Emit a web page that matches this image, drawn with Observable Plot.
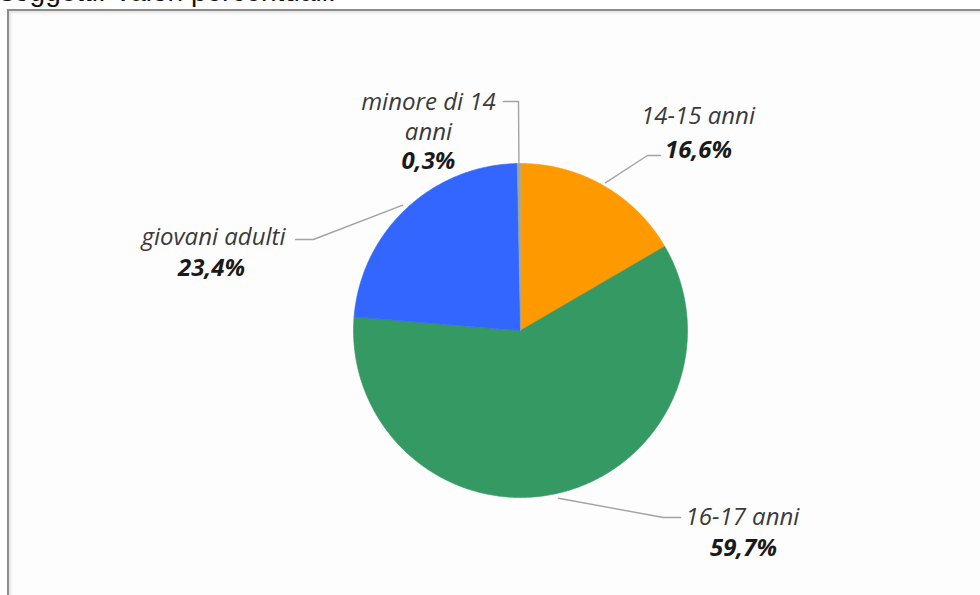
<!DOCTYPE html>
<html>
<head>
<meta charset="utf-8">
<script src="https://cdn.jsdelivr.net/npm/d3@7"></script>
<script src="https://cdn.jsdelivr.net/npm/@observablehq/plot@0.6"></script>
<style>
  html, body { margin: 0; padding: 0; background: #ffffff; overflow: hidden; }
  #wrap { position: relative; width: 980px; height: 595px; overflow: hidden; }
  #title { position: absolute; left: 0; top: -22px; font-family: "Liberation Sans", Arial, sans-serif;
           font-size: 28px; line-height: 28px; color: #111; white-space: nowrap; }
  #frame { position: absolute; left: 7px; top: 9px; width: 990px; height: 600px;
           border-top: 2px solid #8c8c8c; border-left: 2px solid #8c8c8c;
           box-shadow: inset 2px 2px 3px rgba(0,0,0,0.10); background: #fdfdfd; }
  #chart { position: absolute; left: 0; top: 0; }
</style>
</head>
<body>
<div id="wrap">
  <div id="title">soggetti. Valori percentuali.</div>
  <div id="frame"></div>
  <div id="chart"></div>
</div>
<script>
// ---- data ----
const categories = ["14-15 anni", "16-17 anni", "giovani adulti", "minore di 14 anni"];
const values = [16.6, 59.7, 23.4, 0.3];
const nameLabels = ["14-15 anni", "16-17 anni", "giovani adulti", "minore di 14\nanni"];
const valueLabels = ["16,6%", "59,7%", "23,4%", "0,3%"];

// ---- styles / layout (not data) ----
const sliceColors = ["#FF9900", "#359964", "#3366FF", "#A0A890"];
// label anchors in units of pie radius (centre = 0,0)
const namePos  = [[1.063, 1.296], [1.329, -1.108], [-1.838, 0.569], [-0.551, 1.287]];
const valuePos = [[1.066, 1.078], [1.335, -1.305], [-1.850, 0.371], [-0.551, 1.012]];
// leader lines: label end, elbow (unit radius), then slice edge
const leaderEnds   = [[0.838, 1.048], [0.958, -1.120], [-1.347, 0.545], [-0.102, 1.371]];
const leaderElbows = [[0.760, 1.048], [0.856, -1.120], [-1.240, 0.545], [-0.012, 1.371]];
const leaderReach  = [1.02, 1.03, 1.03, 1.0];

// ---- build geometry from the values ----
const total = d3.sum(values);
let acc = 0;
const slices = values.map((v, i) => {
  const a0 = acc / total * 2 * Math.PI;
  acc += v;
  const a1 = acc / total * 2 * Math.PI;
  return {cat: categories[i], a0, a1, mid: (a0 + a1) / 2};
});

const slicePts = [];
slices.forEach(s => {
  slicePts.push({cat: s.cat, x: 0, y: 0});
  const n = Math.max(2, Math.ceil((s.a1 - s.a0) / (Math.PI / 360)));
  for (let k = 0; k <= n; k++) {
    const a = s.a0 + (s.a1 - s.a0) * k / n;
    slicePts.push({cat: s.cat, x: Math.sin(a), y: Math.cos(a)});
  }
  slicePts.push({cat: s.cat, x: 0, y: 0});
});

const leaderPts = [];
slices.forEach((s, i) => {
  leaderPts.push({cat: s.cat, x: leaderEnds[i][0], y: leaderEnds[i][1]});
  leaderPts.push({cat: s.cat, x: leaderElbows[i][0], y: leaderElbows[i][1]});
  const r = leaderReach[i];
  leaderPts.push({cat: s.cat, x: r * Math.sin(s.mid), y: r * Math.cos(s.mid)});
});

const labels = categories.map((c, i) => ({
  cat: c, name: nameLabels[i], value: valueLabels[i],
  nx: namePos[i][0], ny: namePos[i][1], vx: valuePos[i][0], vy: valuePos[i][1]
}));

const font = "'Open Sans', 'Noto Sans', sans-serif";

const chart = Plot.plot({
  width: 980,
  height: 595,
  margin: 0,
  x: {domain: [-1, 1], range: [353, 687], axis: null},
  y: {domain: [-1, 1], range: [497, 163], axis: null},
  color: {type: "ordinal", domain: categories, range: sliceColors},
  style: {background: "transparent", overflow: "visible"},
  marks: [
    Plot.line(slicePts, {x: "x", y: "y", z: "cat", fill: "cat", stroke: "cat", strokeWidth: 0.6}),
    Plot.line(leaderPts, {x: "x", y: "y", z: "cat", stroke: "#a3a3a3", strokeWidth: 1.4}),
    Plot.text(labels, {x: "nx", y: "ny", text: "name", fontSize: 24, fontStyle: "italic",
      fontFamily: font, fill: "#3a3a3a", lineHeight: 1.25, textAnchor: "middle"}),
    Plot.text(labels, {x: "vx", y: "vy", text: "value", fontSize: 24, fontStyle: "italic",
      fontWeight: "bold", fontFamily: font, fill: "#1a1a1a", textAnchor: "middle"})
  ]
});
document.getElementById("chart").appendChild(chart);
</script>
</body>
</html>
